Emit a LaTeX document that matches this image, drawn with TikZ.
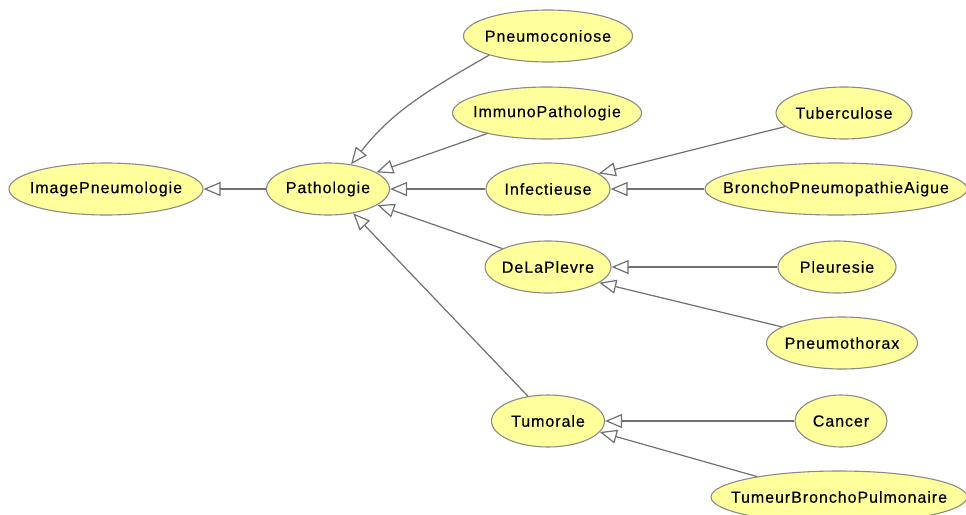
\documentclass[tikz,border=0pt]{standalone}
\usepackage{fontspec}
\usetikzlibrary{shapes.geometric,arrows.meta}
\newfontfamily\lblfont[LetterSpace=6, FakeBold=0.35]{Liberation Sans}
\definecolor{nodefill}{HTML}{FFFF9C}
\definecolor{nodeline}{HTML}{8A8A8A}
\definecolor{edgeline}{HTML}{707070}
% the ellipse size is fixed by minimum width/height, not by the label
\newcommand{\lbl}[1]{\makebox[0pt]{#1}}
\tikzset{
  cls/.style={ellipse, draw=nodeline, fill=nodefill, line width=1.1pt,
    minimum height=52pt, inner sep=0pt,
    font=\lblfont\fontsize{16}{18}\selectfont, text=black},
  gen/.style={draw=edgeline, line width=1.2pt,
    -{Triangle[open, length=17pt, width=14pt, fill=white]}},
}
\begin{document}
\begin{tikzpicture}[x=1pt, y=-1pt]
\useasboundingbox (0,0) rectangle (966,514);

% classes
\node[cls, minimum width=194pt] (imgpneu) at (106,189) {\lbl{ImagePneumologie}};
\node[cls, minimum width=123pt] (patho)   at (328,189) {\lbl{Pathologie}};
\node[cls, minimum width=169pt] (pneumoc) at (548,36)  {\lbl{Pneumoconiose}};
\node[cls, minimum width=189pt] (immuno)  at (547,113) {\lbl{ImmunoPathologie}};
\node[cls, minimum width=124pt] (infect)  at (548,189) {\lbl{Infectieuse}};
\node[cls, minimum width=126pt] (plevre)  at (548,267) {\lbl{DeLaPlevre}};
\node[cls, minimum width=113pt] (tumor)   at (548,421) {\lbl{Tumorale}};
\node[cls, minimum width=136pt] (tuberc)  at (844,113) {\lbl{Tuberculose}};
\node[cls, minimum width=262pt] (broncho) at (836,189) {\lbl{BronchoPneumopathieAigue}};
\node[cls, minimum width=118pt] (pleur)   at (837,267) {\lbl{Pleuresie}};
\node[cls, minimum width=151pt] (pneumot) at (842,343) {\lbl{Pneumothorax}};
\node[cls, minimum width=92pt]  (cancer)  at (841,421) {\lbl{Cancer}};
\node[cls, minimum width=256pt] (tumeur)  at (839,497) {\lbl{TumeurBronchoPulmonaire}};

% generalisations
\draw[gen] (patho.west) -- (imgpneu.east);
\draw[gen] (pneumoc.198) to[out=210, in=52] (patho.47);
\draw[gen] (immuno.199) -- (patho.19);
\draw[gen] (infect.west) -- (patho.east);
\draw[gen] (plevre.158) -- (patho.342);
\draw[gen] (tumor.129) -- (patho.316);
\draw[gen] (tuberc.193) -- (infect.17);
\draw[gen] (broncho.west) -- (infect.east);
\draw[gen] (pleur.west) -- (plevre.east);
\draw[gen] (pneumot.165) -- (plevre.343);
\draw[gen] (cancer.west) -- (tumor.east);
\draw[gen] (tumeur.166) -- (tumor.348);
\end{tikzpicture}
\end{document}
